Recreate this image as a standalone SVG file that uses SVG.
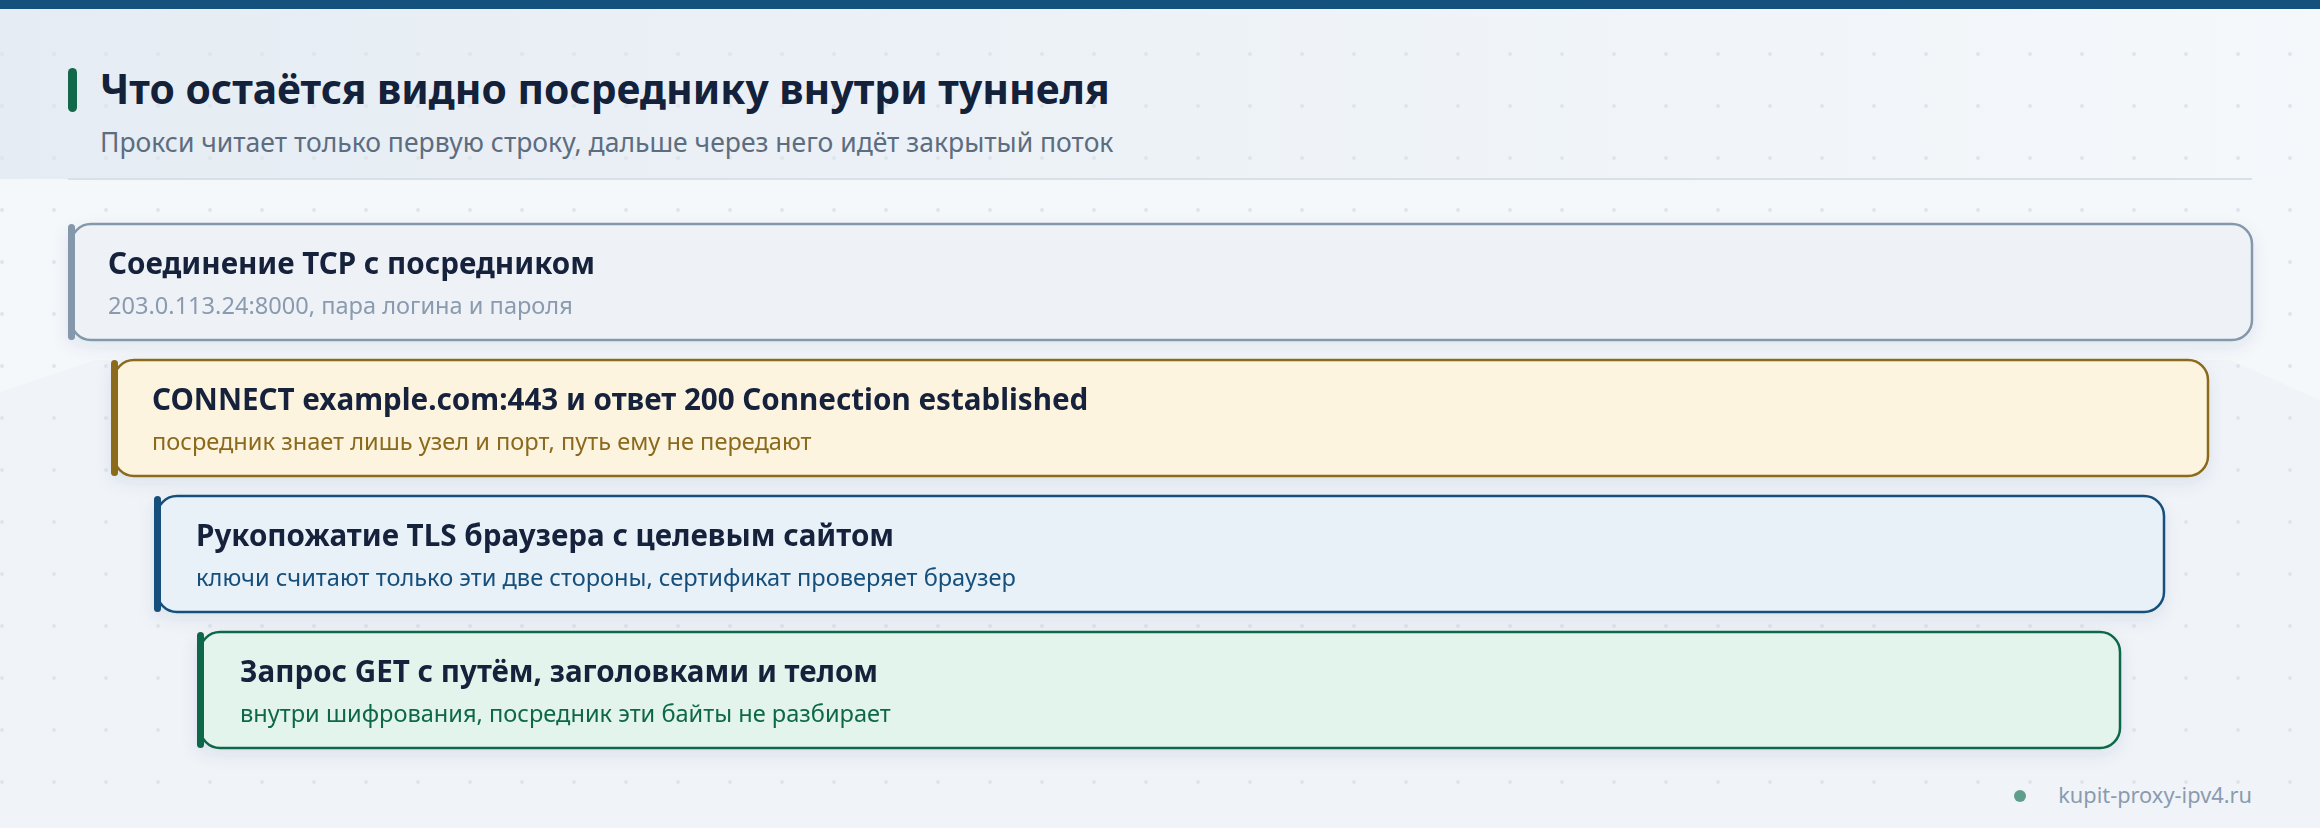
<svg xmlns="http://www.w3.org/2000/svg" width="2320" height="828" viewBox="0 0 2320 828">
  <defs>
    <pattern id="dots" x="0" y="0" width="52" height="52" patternUnits="userSpaceOnUse">
      <circle cx="2" cy="2" r="2" fill="#dde5ed"/>
    </pattern>
    <linearGradient id="hdr" x1="0" y1="0" x2="1" y2="0">
      <stop offset="0" stop-color="#e5ecf3"/>
      <stop offset="0.75" stop-color="#f1f5f9"/>
      <stop offset="1" stop-color="#f4f8fb"/>
    </linearGradient>
    <filter id="shadow" x="-5%" y="-30%" width="110%" height="170%">
      <feDropShadow dx="0" dy="6" stdDeviation="8" flood-color="#1d3d5e" flood-opacity="0.09"/>
    </filter>
    <style>
      .title { font-family: "Noto Sans", "Open Sans", "Liberation Sans", sans-serif; font-weight: 700; fill: #14213a; }
      .sub { font-family: "Noto Sans", "Open Sans", "Liberation Sans", sans-serif; font-weight: 400; }
      .ct { font-size: 29.6px; }
      .cs { font-size: 23.6px; }
      .card { stroke-width: 2.5; }
      .accent { stroke: none; }
    </style>
  </defs>

  <!-- background -->
  <rect x="0" y="0" width="2320" height="828" fill="#f5f8fb"/>
  <path d="M0,392 L95,360 L2230,360 L2320,400 L2320,828 L0,828 Z" fill="#f0f4f8"/>
  <rect x="0" y="9" width="2320" height="170" fill="url(#hdr)"/>
  <rect x="0" y="0" width="2320" height="828" fill="url(#dots)"/>
  <rect x="0" y="0" width="2320" height="9" fill="#14517d"/>

  <!-- header -->
  <g id="header">
    <rect x="68" y="68" width="9" height="44" rx="4.5" fill="#11684a"/>
    <text x="100" y="104" class="title" font-size="40.8">Что остаётся видно посреднику внутри туннеля</text>
    <text x="100" y="152" class="sub" font-size="26.5" fill="#5d6d80">Прокси читает только первую строку, дальше через него идёт закрытый поток</text>
    <rect x="68" y="178" width="2184" height="2" fill="#d8e0e8"/>
  </g>

  <!-- connectors (none drawn in this layered diagram) -->
  <g id="connectors"></g>

  <g id="node-tcp" filter="url(#shadow)">
    <rect class="card" x="71" y="224" width="2181" height="116" rx="20" fill="#eef2f7" stroke="#8497ab"/>
    <rect class="accent" x="68" y="224" width="7" height="116" rx="3.5" fill="#8497ab"/>
    <text x="108" y="274" class="title ct">Соединение TCP с посредником</text>
    <text x="108" y="314" class="sub cs" fill="#8a9bb0">203.0.113.24:8000, пара логина и пароля</text>
  </g>

  <g id="node-connect" filter="url(#shadow)">
    <rect class="card" x="114" y="360" width="2094" height="116" rx="20" fill="#fdf4df" stroke="#8b6a1e"/>
    <rect class="accent" x="111" y="360" width="7" height="116" rx="3.5" fill="#8b6a1e"/>
    <text x="152" y="410" class="title ct">CONNECT example.com:443 и ответ 200 Connection established</text>
    <text x="152" y="450" class="sub cs" fill="#8b6a1e">посредник знает лишь узел и порт, путь ему не передают</text>
  </g>

  <g id="node-tls" filter="url(#shadow)">
    <rect class="card" x="157" y="496" width="2007" height="116" rx="20" fill="#e8f0f8" stroke="#15507c"/>
    <rect class="accent" x="154" y="496" width="7" height="116" rx="3.5" fill="#15507c"/>
    <text x="196" y="546" class="title ct">Рукопожатие TLS браузера с целевым сайтом</text>
    <text x="196" y="586" class="sub cs" fill="#15507c">ключи считают только эти две стороны, сертификат проверяет браузер</text>
  </g>

  <g id="node-get" filter="url(#shadow)">
    <rect class="card" x="200" y="632" width="1920" height="116" rx="20" fill="#e3f4ec" stroke="#11684a"/>
    <rect class="accent" x="197" y="632" width="7" height="116" rx="3.5" fill="#11684a"/>
    <text x="240" y="682" class="title ct">Запрос GET с путём, заголовками и телом</text>
    <text x="240" y="722" class="sub cs" fill="#11684a">внутри шифрования, посредник эти байты не разбирает</text>
  </g>

  <g id="footer">
    <circle cx="2020" cy="796" r="6" fill="#5f9e8a"/>
    <text x="2252" y="803" class="sub" font-size="21.8" fill="#8a9bb0" text-anchor="end">kupit-proxy-ipv4.ru</text>
  </g>
</svg>
